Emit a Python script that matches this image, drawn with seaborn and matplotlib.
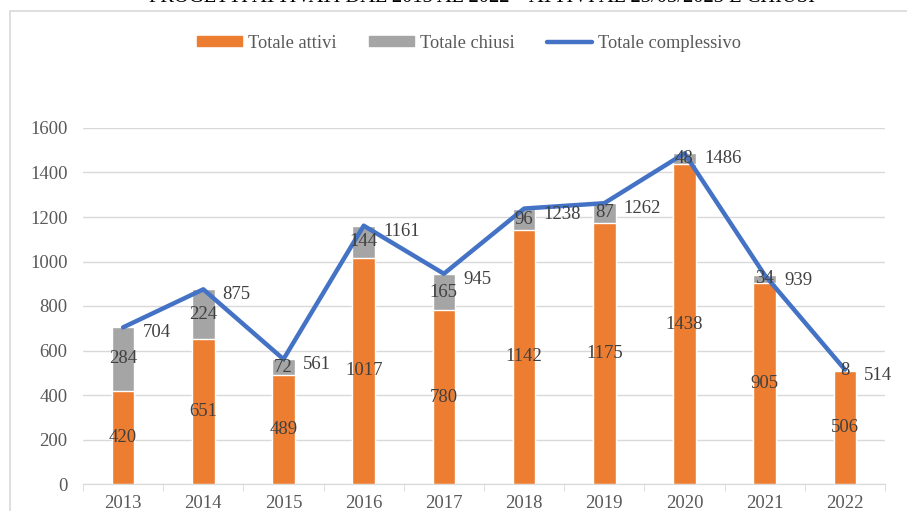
import seaborn as sns
import matplotlib.pyplot as plt
import pandas as pd
from matplotlib.patches import Patch
from matplotlib.lines import Line2D

anni = ['2013', '2014', '2015', '2016', '2017', '2018', '2019', '2020', '2021', '2022']
attivi = [420, 651, 489, 1017, 780, 1142, 1175, 1438, 905, 506]
chiusi = [284, 224, 72, 144, 165, 96, 87, 48, 34, 8]
totale = [704, 875, 561, 1161, 945, 1238, 1262, 1486, 939, 514]
titolo = 'PROGETTI ATTIVATI DAL 2013 AL 2022 – ATTIVI AL 23/03/2023 E CHIUSI'

data = pd.DataFrame({'anno': anni, 'attivi': attivi, 'chiusi': chiusi, 'totale': totale})

sns.set_style('white')
plt.rcParams['font.family'] = ['Liberation Serif', 'DejaVu Serif']

arancio = '#ED7D31'
grigio = '#A5A5A5'
blu = '#4472C4'
testo = '#404040'

fig = plt.figure(figsize=(9.07, 5.11), dpi=100)
ax = fig.add_axes([83 / 907, 27 / 511, 802 / 907, 356 / 511])

# barre impilate: prima il totale (grigio), poi gli attivi sopra (arancio)
sns.barplot(x='anno', y='totale', data=data, color=grigio, width=0.28,
            saturation=1, ax=ax, zorder=2)
sns.barplot(x='anno', y='attivi', data=data, color=arancio, width=0.28,
            saturation=1, ax=ax, zorder=3)
sns.lineplot(x=range(len(anni)), y=totale, color=blu, lw=3.2, ax=ax,
             zorder=4, solid_joinstyle='round')

for i in range(len(anni)):
    ax.text(i, attivi[i] / 2, str(attivi[i]), ha='center', va='center',
            fontsize=13.5, color=testo, zorder=5)
    ax.text(i, attivi[i] + chiusi[i] / 2, str(chiusi[i]), ha='center',
            va='center', fontsize=13.5, color=testo, zorder=5)
    ax.annotate(str(totale[i]), (i, totale[i]), xytext=(14, -4),
                textcoords='offset points', ha='left', va='center',
                fontsize=13.5, color=testo, zorder=5)

ax.set_ylim(0, 1600)
ax.set_xlim(-0.5, len(anni) - 0.5)
ax.set_yticks(range(0, 1601, 200))
ax.yaxis.grid(True, color='#D9D9D9', lw=1)
ax.set_axisbelow(True)
ax.set_xlabel('')
ax.set_ylabel('')
for s in ['top', 'right', 'left']:
    ax.spines[s].set_visible(False)
ax.spines['bottom'].set_color('#D9D9D9')
ax.tick_params(axis='y', length=0, labelsize=13.5, labelcolor='#595959', pad=11)
ax.tick_params(axis='x', length=0, labelsize=13.5, labelcolor='#595959', pad=8)
ax.set_xticks(range(len(anni)))
ax.set_xticklabels(anni)
ax.set_xticks([i - 0.5 for i in range(len(anni) + 1)], minor=True)
ax.tick_params(axis='x', which='minor', length=5, color='#D9D9D9', direction='out',
               bottom=True)

handles = [Patch(color=arancio, label='Totale attivi'),
           Patch(color=grigio, label='Totale chiusi'),
           Line2D([0], [0], color=blu, lw=3.2, label='Totale complessivo')]
fig.legend(handles=handles, loc='center', bbox_to_anchor=(469 / 907, 1 - 43 / 511),
           ncol=3, frameon=False, fontsize=13.2, labelcolor='#595959',
           handlelength=2.45, handleheight=0.5, columnspacing=1.75, handletextpad=0.33)

fig.text(482 / 907, 1.004, titolo, ha='center', va='center', fontsize=14.8, color='black')
fig.add_artist(Line2D([10 / 907, 1], [1 - 11 / 511, 1 - 11 / 511], color='#D9D9D9', lw=1.2))
fig.add_artist(Line2D([10 / 907, 10 / 907], [0, 1 - 11 / 511], color='#D9D9D9', lw=1.2))

fig.savefig('out.png', dpi=100)
